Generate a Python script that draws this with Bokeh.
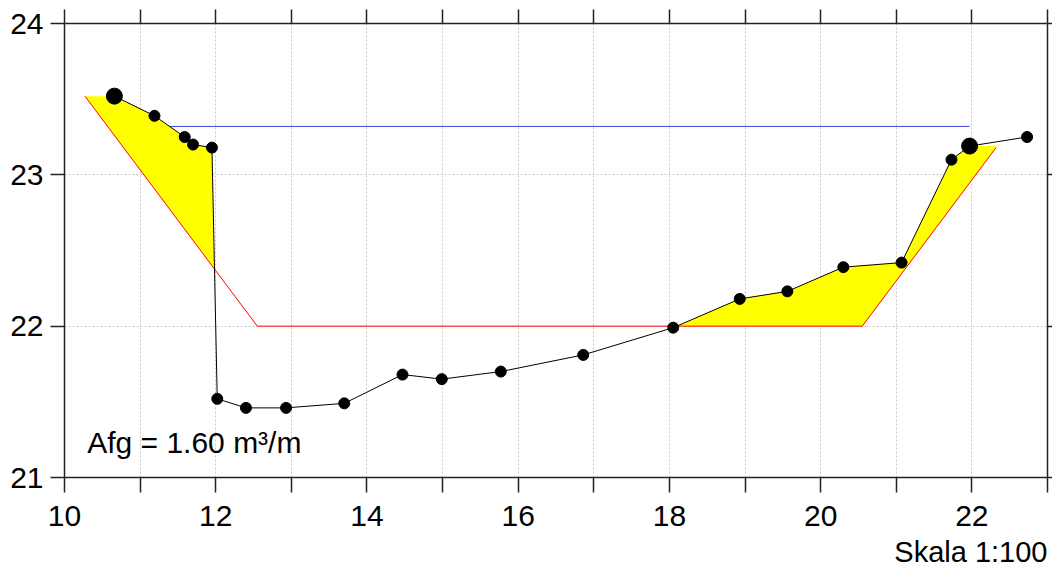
import numpy as np
from bokeh.plotting import figure
from bokeh.models import (ColumnDataSource, FixedTicker, LinearAxis, Label, Title,
                          CustomJSTickFormatter, Range1d)
from bokeh.embed import file_html
from bokeh.resources import INLINE

# ---- data ----
ground_x = [10.66, 11.19, 11.59, 11.70, 11.95, 12.02, 12.40, 12.93, 13.70, 14.47, 14.99,
            15.77, 16.86, 18.05, 18.93, 19.56, 20.30, 21.07, 21.73, 21.97, 22.73]
ground_y = [23.52, 23.39, 23.25, 23.20, 23.18, 21.52, 21.46, 21.46, 21.49, 21.68, 21.65,
            21.70, 21.81, 21.99, 22.18, 22.23, 22.39, 22.42, 23.10, 23.19, 23.25]
big_points = [0, 19]          # insteek points (large markers)

design_x = [10.27, 12.55, 20.55, 22.32]
design_y = [23.52, 22.00, 22.00, 23.18]

water_x = [11.39, 21.97]
water_y = [23.32, 23.32]

x_ticks = list(range(10, 24))
y_ticks = [21, 22, 23, 24]
afg_text = "Afg = 1.60 m³/m"
scale_text = "Skala 1:100"

FONT = "Liberation Sans"

p = figure(width=1052, height=572, output_backend="svg", toolbar_location=None,
           x_range=Range1d(10, 23), y_range=Range1d(21, 24),
           min_border_left=64, min_border_right=5, min_border_top=23, min_border_bottom=95,
           x_axis_location=None, y_axis_location=None)
p.background_fill_color = "white"
p.border_fill_color = "white"
p.outline_line_color = None

# grid
xt = FixedTicker(ticks=x_ticks)
yt = FixedTicker(ticks=y_ticks)
p.xgrid.ticker = xt
p.ygrid.ticker = yt
for g in (p.xgrid, p.ygrid):
    g.grid_line_color = "#c8c8c8"
    g.grid_line_dash = "2 2"
    g.grid_line_width = 1

def style_axis(ax, tick_out, standoff, labels=True):
    ax.axis_line_color = "#222222"
    ax.axis_line_width = 1.5
    ax.major_tick_line_color = "#222222"
    ax.major_tick_line_width = 1.5
    ax.major_tick_out = tick_out
    ax.major_tick_in = 0
    ax.minor_tick_line_color = None
    ax.major_label_standoff = standoff
    ax.major_label_text_font = FONT
    ax.major_label_text_color = "black"
    if labels:
        ax.major_label_text_font_size = "30px"
    else:
        ax.formatter = CustomJSTickFormatter(code="return ''")
        ax.major_label_text_font_size = "1px"

bottom = LinearAxis(ticker=xt)
style_axis(bottom, 15, 13)
bottom.major_label_overrides = {t: "" for t in x_ticks if t % 2 == 1}
p.add_layout(bottom, "below")

left = LinearAxis(ticker=yt)
style_axis(left, 14, 7)
p.add_layout(left, "left")

top = LinearAxis(ticker=xt)
style_axis(top, 14, 0, labels=False)
p.add_layout(top, "above")

right = LinearAxis(ticker=yt)
style_axis(right, 5, 0, labels=False)
p.add_layout(right, "right")

p.add_layout(Title(text=scale_text, align="right", text_font=FONT,
                   text_font_size="29px", text_font_style="normal",
                   text_color="black", offset=0), "below")

# excavation area (ground above design), computed from the two profiles
gx = np.array(ground_x[big_points[0]:big_points[1] + 1])
gy = np.array(ground_y[big_points[0]:big_points[1] + 1])
xs = np.union1d(np.linspace(design_x[0], design_x[-1], 4000),
                np.concatenate([gx, design_x]))
d = np.interp(xs, design_x, design_y)
g = np.interp(xs, gx, gy)
upper = np.maximum(d, g)
p.varea(x=xs, y1=d, y2=upper, fill_color="#ffff00")

p.line(design_x, design_y, line_color="#ff0000", line_width=1)
p.line(water_x, water_y, line_color="#4040e0", line_width=1)
p.line(ground_x, ground_y, line_color="black", line_width=1)

sizes = [16 if i in big_points else 11 for i in range(len(ground_x))]
src = ColumnDataSource(dict(x=ground_x, y=ground_y, s=sizes))
p.scatter("x", "y", size="s", source=src, marker="circle",
          fill_color="black", line_color="black")

p.add_layout(Label(x=10.3, y=21.23, text=afg_text, text_font=FONT,
                   text_font_size="30px", text_baseline="alphabetic",
                   text_align="left", text_color="black"))

open("out.html", "w").write(file_html(p, INLINE))
